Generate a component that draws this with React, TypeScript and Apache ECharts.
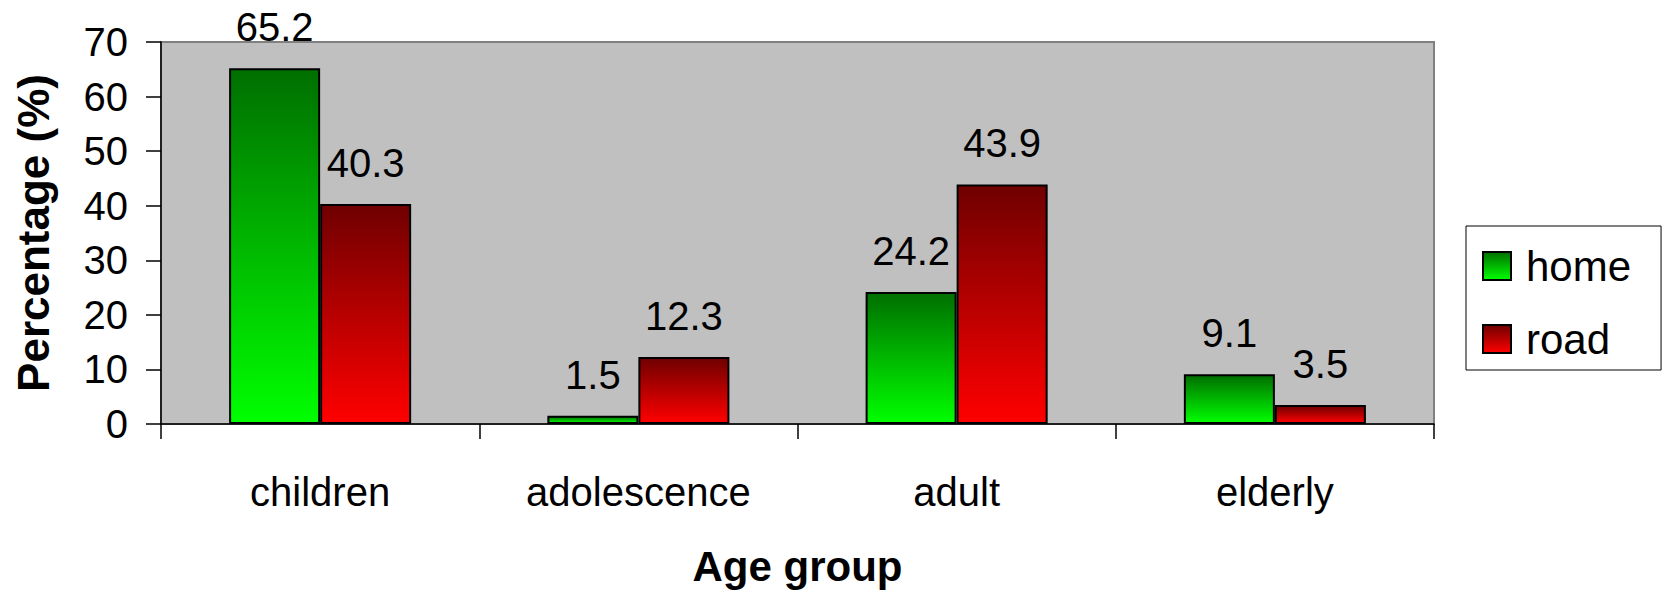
import React, { useEffect, useRef } from "react";
import * as echarts from "echarts";

const categories = ["children", "adolescence", "adult", "elderly"];
const homeValues = [65.2, 1.5, 24.2, 9.1];
const roadValues = [40.3, 12.3, 43.9, 3.5];
const yTicks = { min: 0, max: 70, interval: 10 };

const FONT = '"Liberation Sans", Arial, sans-serif';

function vGradient(top: string, bottom: string) {
  return new echarts.graphic.LinearGradient(0, 0, 0, 1, [
    { offset: 0, color: top },
    { offset: 1, color: bottom },
  ]);
}

export default function App() {
  const ref = useRef<HTMLDivElement>(null);

  useEffect(() => {
    if (!ref.current) return;
    const chart = echarts.init(ref.current, undefined, { renderer: "svg" });

    const labelStyle = {
      show: true,
      position: "top" as const,
      distance: 21,
      color: "#000",
      fontSize: 40,
      fontFamily: FONT,
    };

    chart.setOption({
      animation: false,
      textStyle: { fontFamily: FONT },
      grid: {
        left: 161,
        right: 228,
        top: 42,
        bottom: 171,
        show: true,
        backgroundColor: "#C0C0C0",
        borderColor: "#808080",
        borderWidth: 2,
      },
      legend: {
        orient: "vertical",
        left: 1466,
        top: 226,
        padding: [19, 30, 10, 16],
        itemWidth: 28,
        itemHeight: 28,
        itemGap: 31,
        icon: "rect",
        borderColor: "#000",
        borderWidth: 1,
        backgroundColor: "#fff",
        textStyle: { fontSize: 42, color: "#000", fontFamily: FONT, padding: [0, 0, 0, 10] },
        data: ["home", "road"],
      },
      xAxis: {
        type: "category",
        data: categories,
        name: "Age group",
        nameLocation: "middle",
        nameGap: 121,
        nameTextStyle: { fontSize: 42, fontWeight: "bold", color: "#000", fontFamily: FONT },
        axisLine: { lineStyle: { color: "#000", width: 1.5 } },
        axisTick: { show: true, length: 15, lineStyle: { color: "#000", width: 1.5 } },
        axisLabel: { fontSize: 40, color: "#000", margin: 48, fontFamily: FONT },
      },
      yAxis: {
        type: "value",
        min: yTicks.min,
        max: yTicks.max,
        interval: yTicks.interval,
        name: "Percentage (%)",
        nameLocation: "middle",
        nameGap: 106,
        nameTextStyle: { fontSize: 44, fontWeight: "bold", color: "#000", fontFamily: FONT },
        axisLine: { show: true, lineStyle: { color: "#000", width: 1.5 } },
        axisTick: { show: true, length: 15, lineStyle: { color: "#000", width: 1.5 } },
        axisLabel: { fontSize: 40, color: "#000", margin: 33, fontFamily: FONT },
        splitLine: { show: false },
      },
      series: [
        {
          name: "home",
          type: "bar",
          data: homeValues,
          barWidth: "28.6%",
          barGap: "0%",
          itemStyle: {
            color: vGradient("#006F00", "#00FF00"),
            borderColor: "#000",
            borderWidth: 2,
          },
          label: labelStyle,
        },
        {
          name: "road",
          type: "bar",
          data: roadValues,
          barWidth: "28.6%",
          barGap: "0%",
          itemStyle: {
            color: vGradient("#6F0000", "#FF0000"),
            borderColor: "#000",
            borderWidth: 2,
          },
          label: labelStyle,
        },
      ],
    });

    return () => chart.dispose();
  }, []);

  return (
    <div
      ref={ref}
      style={{ position: "fixed", left: 0, top: 0, width: 1662, height: 595, background: "#fff" }}
    />
  );
}
